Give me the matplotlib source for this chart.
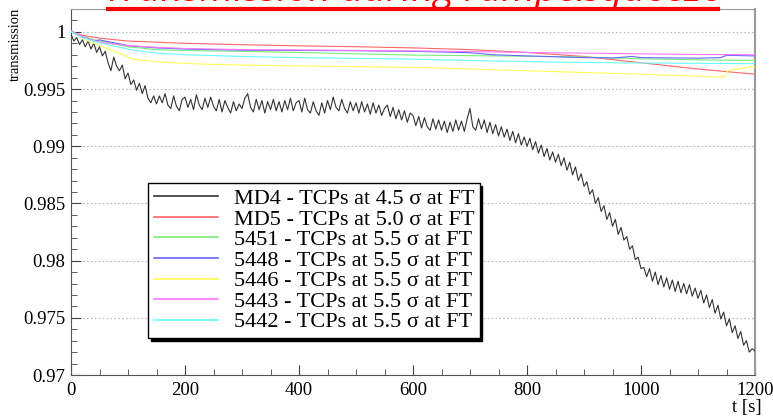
import numpy as np
import matplotlib
matplotlib.use('Agg')
import matplotlib.pyplot as plt
from matplotlib.lines import Line2D
from matplotlib.ticker import MultipleLocator, FormatStrFormatter

# MD4 - read every 5 s off the picture (noisy curve)
t_md4 = np.arange(0, 1201, 5)
v_md4 = [0.9998, 0.9992, 0.9995, 0.9989, 0.9993, 0.9987, 0.9992, 0.9985, 0.9990, 0.9982,
         0.9987, 0.9979, 0.9983, 0.9973, 0.9966, 0.9978, 0.9970, 0.9966, 0.9971, 0.9959,
         0.9964, 0.9954, 0.9958, 0.9949, 0.9955, 0.9946, 0.9953, 0.9942, 0.9938, 0.9944,
         0.9937, 0.9944, 0.9938, 0.9946, 0.9936, 0.9933, 0.9944, 0.9935, 0.9931, 0.9941,
         0.9943, 0.9934, 0.9941, 0.9932, 0.9945, 0.9936, 0.9932, 0.9942, 0.9934, 0.9943,
         0.9935, 0.9931, 0.9941, 0.9930, 0.9940, 0.9934, 0.9929, 0.9939, 0.9931, 0.9937,
         0.9933, 0.9942, 0.9946, 0.9934, 0.9930, 0.9941, 0.9932, 0.9940, 0.9929, 0.9939,
         0.9932, 0.9941, 0.9931, 0.9939, 0.9930, 0.9940, 0.9932, 0.9942, 0.9931, 0.9938,
         0.9940, 0.9930, 0.9942, 0.9932, 0.9929, 0.9939, 0.9931, 0.9927, 0.9938, 0.9929,
         0.9940, 0.9932, 0.9943, 0.9934, 0.9931, 0.9941, 0.9933, 0.9929, 0.9939, 0.9931,
         0.9938, 0.9929, 0.9939, 0.9930, 0.9937, 0.9928, 0.9938, 0.9929, 0.9936, 0.9927,
         0.9933, 0.9936, 0.9926, 0.9934, 0.9924, 0.9932, 0.9923, 0.9931, 0.9921, 0.9929,
         0.9927, 0.9918, 0.9926, 0.9916, 0.9925, 0.9917, 0.9914, 0.9924, 0.9915, 0.9923,
         0.9914, 0.9922, 0.9912, 0.9921, 0.9913, 0.9923, 0.9914, 0.9922, 0.9913, 0.9924,
         0.9933, 0.9917, 0.9914, 0.9924, 0.9915, 0.9923, 0.9912, 0.9921, 0.9911, 0.9919,
         0.9909, 0.9917, 0.9908, 0.9915, 0.9905, 0.9913, 0.9903, 0.9911, 0.9901, 0.9908,
         0.9900, 0.9907, 0.9897, 0.9904, 0.9894, 0.9901, 0.9891, 0.9898, 0.9888, 0.9895,
         0.9886, 0.9893, 0.9883, 0.9890, 0.9879, 0.9886, 0.9875, 0.9882, 0.9870, 0.9876,
         0.9865, 0.9869, 0.9858, 0.9862, 0.9850, 0.9855, 0.9843, 0.9848, 0.9836, 0.9842,
         0.9830, 0.9836, 0.9823, 0.9829, 0.9818, 0.9821, 0.9810, 0.9813, 0.9801, 0.9803,
         0.9793, 0.9794, 0.9786, 0.9793, 0.9782, 0.9790, 0.9779, 0.9787, 0.9777, 0.9785,
         0.9775, 0.9783, 0.9773, 0.9782, 0.9772, 0.9780, 0.9771, 0.9779, 0.9769, 0.9776,
         0.9767, 0.9774, 0.9763, 0.9770, 0.9759, 0.9766, 0.9754, 0.9761, 0.9749, 0.9755,
         0.9743, 0.9749, 0.9737, 0.9743, 0.9732, 0.9738, 0.9726, 0.9730, 0.9720, 0.9723,
         0.9721]

t_md5 = [0, 20, 50, 100, 150, 200, 300, 400, 500, 600, 700, 800, 900, 1000, 1100, 1200]
v_md5 = [1.0000, 0.9997, 0.99945, 0.9992, 0.9991, 0.9990, 0.99888, 0.99878, 0.99870,
         0.99860, 0.99845, 0.99820, 0.99785, 0.99730, 0.99675, 0.99630]

t_5451 = [0, 20, 50, 100, 150, 200, 300, 400, 500, 600, 700, 800, 900, 1000, 1100, 1200]
v_5451 = [1.0000, 0.9996, 0.9992, 0.9987, 0.99845, 0.99838, 0.99830, 0.99820, 0.99808,
          0.99797, 0.99792, 0.99787, 0.99780, 0.99765, 0.99755, 0.99750]

t_5448 = [0, 10, 30, 40, 50, 100, 150, 200, 300, 400, 500, 600, 700, 740, 800, 900, 950,
          985, 1000, 1100, 1140, 1150, 1200]
v_5448 = [1.0001, 0.9998, 0.9994, 0.9992, 0.9993, 0.9988, 0.99860, 0.99850, 0.99840,
          0.99838, 0.99835, 0.99830, 0.99818, 0.99800, 0.99790, 0.99775, 0.99772,
          0.99785, 0.99775, 0.99770, 0.99775, 0.99795, 0.99790]

t_5446 = [0, 15, 30, 50, 80, 110, 140, 170, 220, 300, 400, 500, 600, 700, 800, 900, 1000,
          1100, 1140, 1148, 1152, 1165, 1180, 1190, 1200]
v_5446 = [1.0000, 0.9996, 0.9992, 0.9988, 0.9982, 0.9976, 0.99745, 0.99732, 0.99720,
          0.99710, 0.99702, 0.99696, 0.99690, 0.99675, 0.99660, 0.99645, 0.99630,
          0.99612, 0.99605, 0.99615, 0.99660, 0.99672, 0.99680, 0.99695, 0.99690]

t_5443 = [0, 20, 50, 100, 150, 200, 300, 400, 500, 600, 700, 800, 900, 1000, 1100, 1200]
v_5443 = [1.0001, 0.9996, 0.9991, 0.9988, 0.99865, 0.99855, 0.99845, 0.99842, 0.99838,
          0.99834, 0.99828, 0.99820, 0.99814, 0.99808, 0.99802, 0.99800]

t_5442 = [0, 20, 50, 80, 110, 150, 200, 300, 400, 500, 600, 700, 800, 900, 1000, 1100, 1200]
v_5442 = [1.0000, 0.9995, 0.99905, 0.9987, 0.9984, 0.99815, 0.9980, 0.99785, 0.99775,
          0.99768, 0.99762, 0.99750, 0.99740, 0.99732, 0.99728, 0.99725, 0.99722]

series = [
    (t_md4, v_md4, '#333333', 'MD4 - TCPs at 4.5 σ at FT'),
    (t_md5, v_md5, '#ff6666', 'MD5 - TCPs at 5.0 σ at FT'),
    (t_5451, v_5451, '#77ee77', '5451 - TCPs at 5.5 σ at FT'),
    (t_5448, v_5448, '#6666ff', '5448 - TCPs at 5.5 σ at FT'),
    (t_5446, v_5446, '#ffff55', '5446 - TCPs at 5.5 σ at FT'),
    (t_5443, v_5443, '#ff77ff', '5443 - TCPs at 5.5 σ at FT'),
    (t_5442, v_5442, '#66ffff', '5442 - TCPs at 5.5 σ at FT'),
]

plt.rcParams['font.family'] = ['Liberation Serif', 'DejaVu Serif']

fig = plt.figure(figsize=(7.73, 4.18), dpi=100)
ax = fig.add_axes([71/773, 43/418, 684/773, 366/418])

for t, v, c, lab in series:
    ax.plot(t, v, c=c, lw=0.8, label=lab, zorder=3)

ax.set_xlim(0, 1200)
ax.set_ylim(0.97, 1.002)

ax.xaxis.set_major_locator(MultipleLocator(200))
ax.xaxis.set_minor_locator(MultipleLocator(50))
ax.yaxis.set_major_locator(MultipleLocator(0.005))
ax.yaxis.set_minor_locator(MultipleLocator(0.001))
ax.yaxis.set_major_formatter(FormatStrFormatter('%g'))
ax.tick_params(which='both', direction='in', labelsize=13.5, colors='#444444',
               labelcolor='black')
ax.tick_params(which='major', length=7)
ax.tick_params(which='minor', length=4)
ax.tick_params(axis='y', pad=4)
ax.tick_params(axis='x', pad=5)

ax.grid(axis='y', which='major', ls=(0, (1.5, 2)), color='#bbbbbb', lw=0.8, zorder=1)
for s in ['left', 'bottom']:
    ax.spines[s].set_color('#555555')
for s in ['top', 'right']:
    ax.spines[s].set_color('#999999')
ax.spines['right'].set_linewidth(1.5)

leg = ax.legend(loc='upper left', bbox_to_anchor=(0.1126, 0.5246), borderaxespad=0,
                fontsize=16, frameon=True, fancybox=False, framealpha=1,
                edgecolor='black', handlelength=2.9, handletextpad=0.7,
                labelspacing=0.0, borderpad=0.25,
                shadow={'color': 'black', 'alpha': 1})
leg.get_frame().set_linewidth(1.0)
for h in leg.get_lines():
    h.set_linewidth(1.2)

fig.text(15/773, 1 - 8/418, 'transmission', rotation=90, ha='center', va='top',
         fontsize=10.5)
fig.text(762/773, 1 - 416/418, 't [s]', ha='right', va='bottom', fontsize=13.5)

fig.text(413/773, 1 - 1/418, 'Transmission during ramp&squeeze', color='red',
         family='Open Sans', style='italic', fontsize=28, ha='center',
         va='baseline')
fig.add_artist(Line2D([108/773, 718/773], [1 - 9/418, 1 - 9/418], color='red',
                      lw=3, transform=fig.transFigure))

fig.savefig('out.png', dpi=100)
